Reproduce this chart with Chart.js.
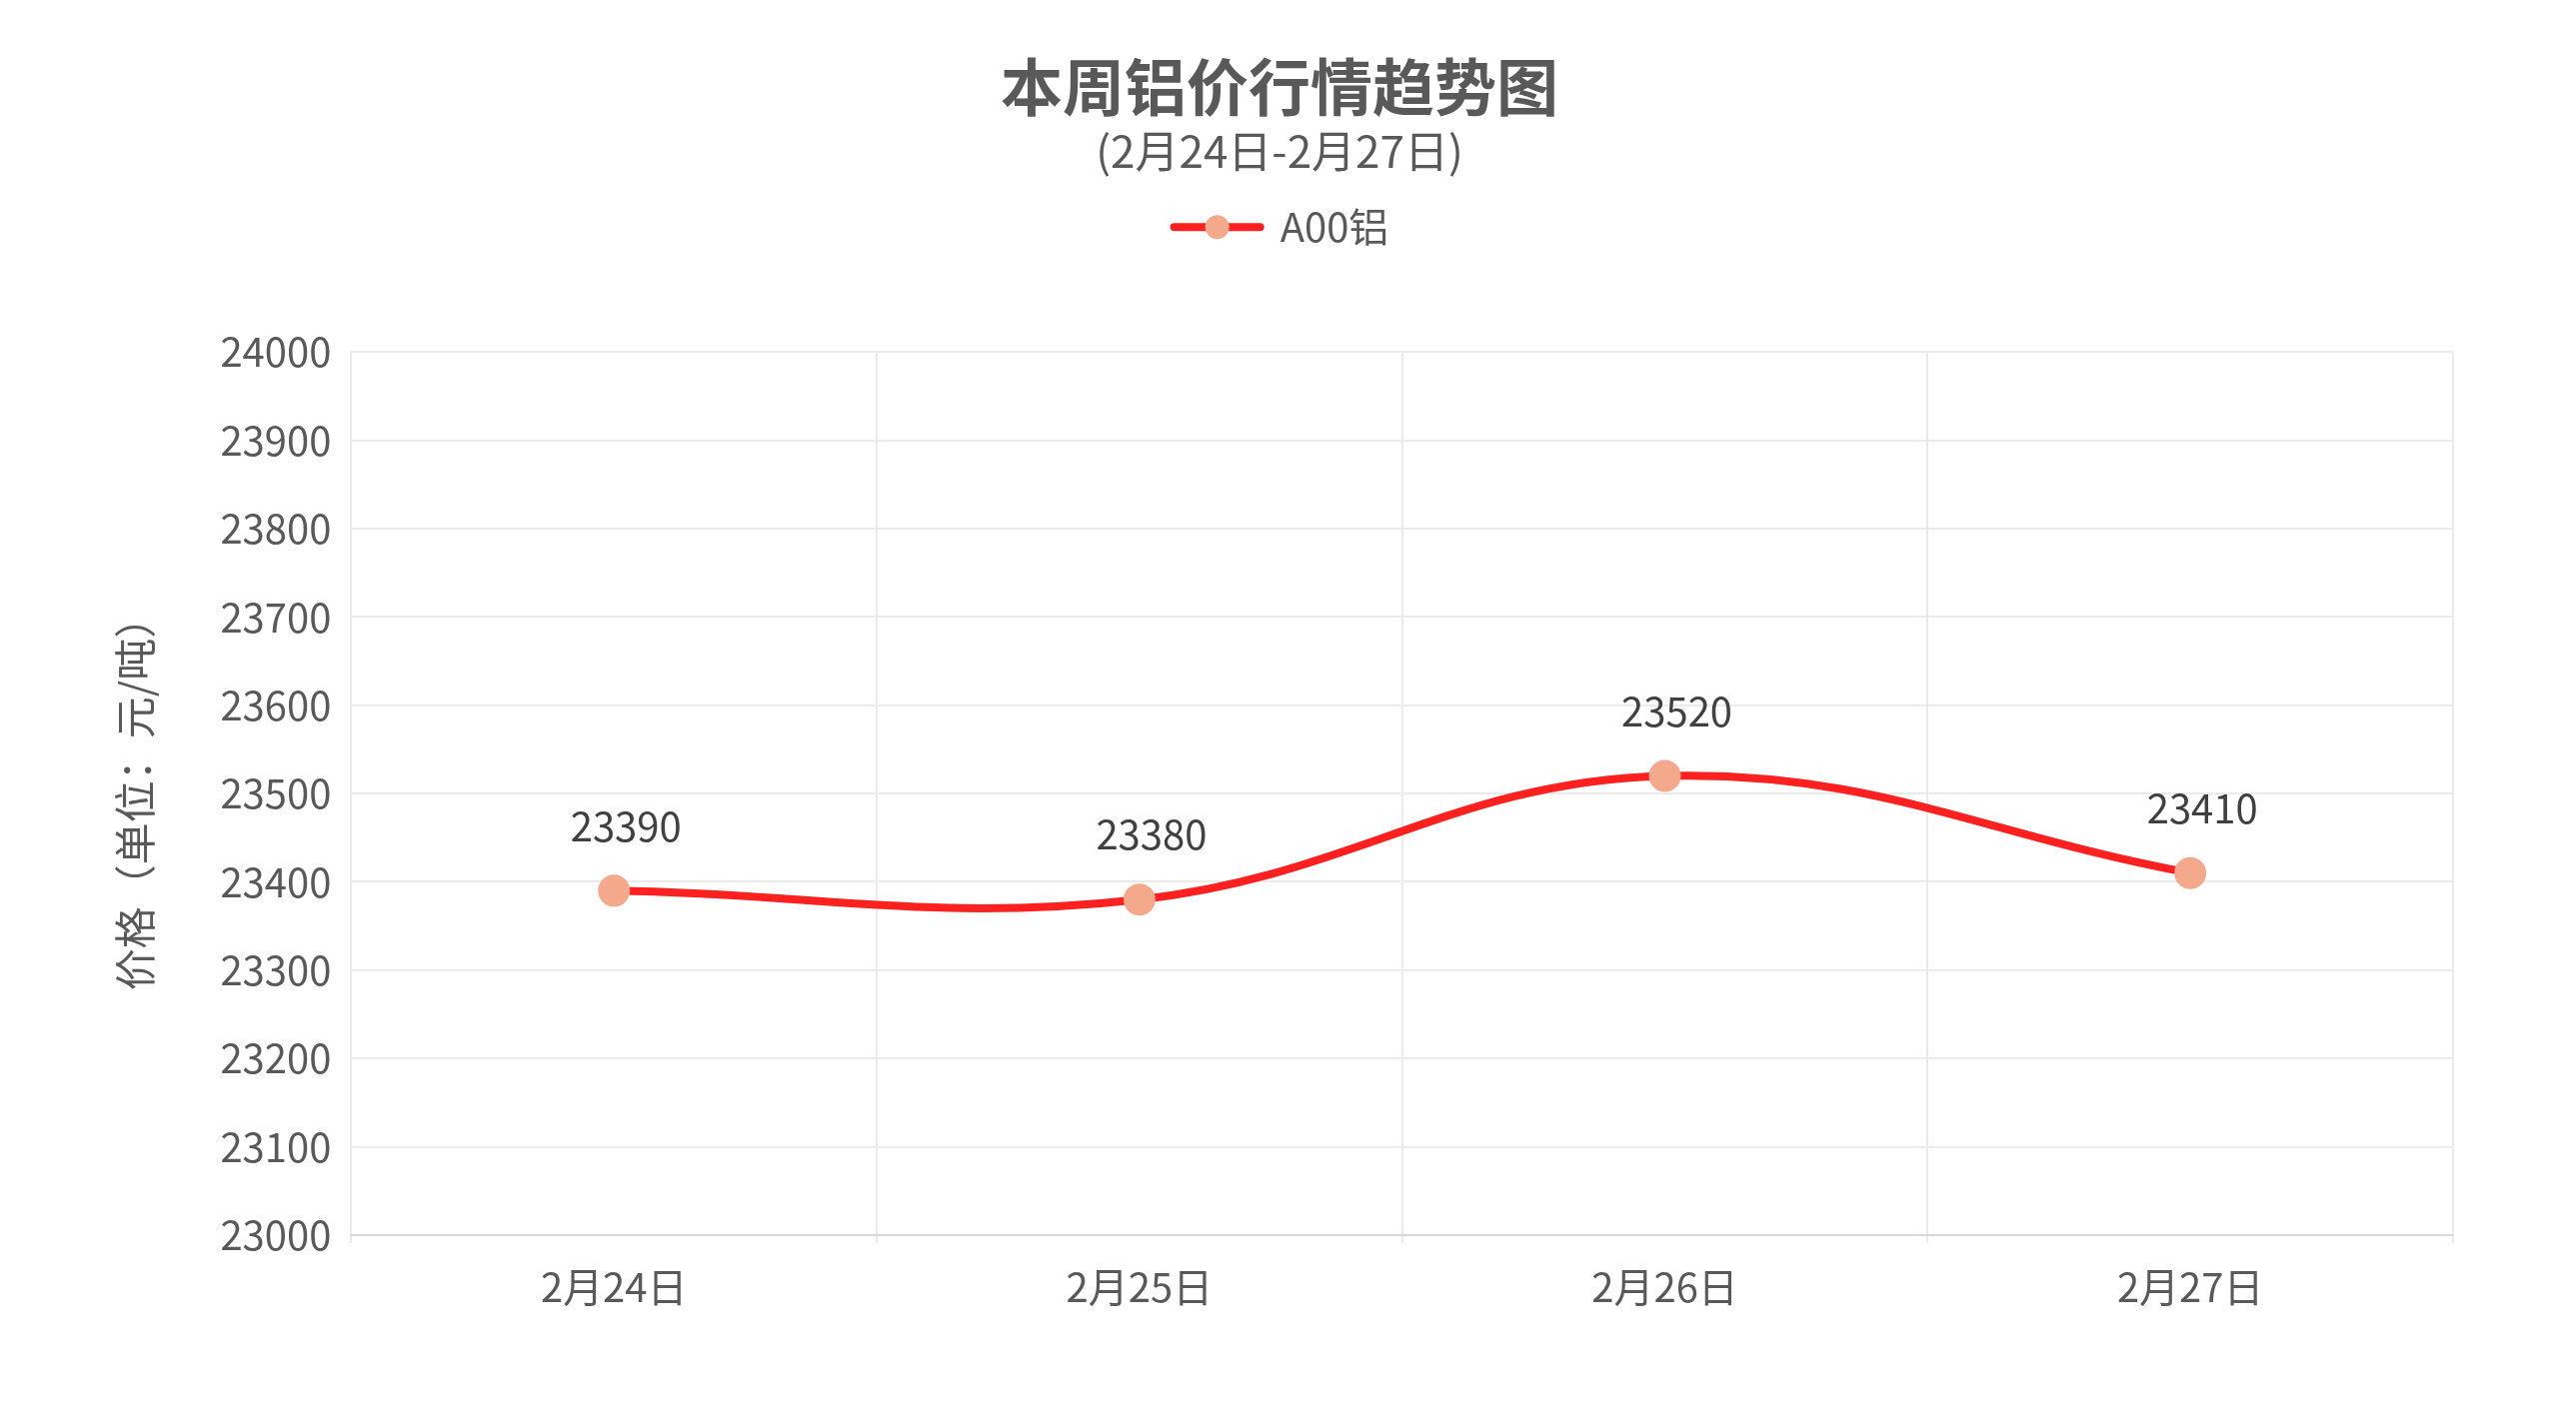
<!DOCTYPE html>
<html>
<head>
<meta charset="utf-8">
<script src="https://cdn.jsdelivr.net/npm/chart.js@4"></script>
<style>
html,body{margin:0;padding:0;background:#fff;}
#wrap{width:2577px;height:1417px;}
</style>
</head>
<body>
<div id="wrap"><canvas id="line"></canvas></div>
<script>
var categories = ["2月24日", "2月25日", "2月26日", "2月27日"];
var prices = [23390, 23380, 23520, 23410];
var yMin = 23000, yMax = 24000, yStep = 100;

var font = "'Microsoft YaHei','Noto Sans CJK SC','Noto Sans',sans-serif";
var textColor = '#595959';
var lineColor = '#FF2020';
var dotColor = '#F4A98C';

// values above points + legend marker (line with dot)
var extras = {
    id: 'extras',
    afterDatasetsDraw: function(chart) {
        var c = chart.ctx;
        var meta = chart.getDatasetMeta(0);
        c.save();
        c.font = '40px ' + font;
        c.fillStyle = '#404040';
        c.textAlign = 'center';
        c.textBaseline = 'bottom';
        meta.data.forEach(function(pt, i) {
            c.fillText(prices[i], pt.x + 12, pt.y - 45);
        });
        c.restore();
    },
    afterDraw: function(chart) {
        var box = chart.legend.legendHitBoxes[0];
        if (!box) return;
        var c = chart.ctx;
        var cy = box.top + box.height / 2;
        c.save();
        c.strokeStyle = lineColor;
        c.lineWidth = 8;
        c.lineCap = 'round';
        c.beginPath();
        c.moveTo(box.left + 4, cy);
        c.lineTo(box.left + 90, cy);
        c.stroke();
        c.fillStyle = dotColor;
        c.beginPath();
        c.arc(box.left + 47, cy, 12, 0, Math.PI * 2);
        c.fill();
        c.restore();
    }
};

var ctx = document.getElementById("line").getContext('2d');
new Chart(ctx, {
    type: 'line',
    data: {
        labels: categories,
        datasets: [{
            label: 'A00铝',
            data: prices,
            borderColor: lineColor,
            backgroundColor: dotColor,
            pointBackgroundColor: dotColor,
            pointBorderColor: dotColor,
            pointRadius: 12,
            borderWidth: 8,
            tension: 0.4,
            fill: false
        }]
    },
    options: {
        responsive: true,
        maintainAspectRatio: false,
        animation: false,
        layout: {padding: {left: 106, right: 123, top: 40, bottom: 85}},
        plugins: {
            title: {
                display: true,
                text: '本周铝价行情趋势图',
                color: textColor,
                font: {family: font, size: 62, weight: 'bold'},
                padding: {top: 10, bottom: 0}
            },
            subtitle: {
                display: true,
                text: '(2月24日-2月27日)',
                color: textColor,
                font: {family: font, size: 44},
                padding: {top: 0, bottom: 20}
            },
            legend: {
                labels: {
                    color: textColor,
                    font: {family: font, size: 40},
                    boxWidth: 90,
                    padding: 10,
                    generateLabels: function(chart) {
                        return [{text: 'A00铝', fillStyle: 'rgba(0,0,0,0)', strokeStyle: 'rgba(0,0,0,0)', lineWidth: 0, fontColor: textColor, datasetIndex: 0}];
                    }
                }
            },
            tooltip: {enabled: false}
        },
        scales: {
            x: {
                offset: true,
                grid: {offset: true, color: '#EBEBEB', lineWidth: 2},
                border: {color: '#D9D9D9', width: 2},
                ticks: {color: textColor, font: {family: font, size: 40}, padding: 20}
            },
            y: {
                min: yMin,
                max: yMax,
                afterFit: function(scale) { scale.paddingTop = 0; },
                ticks: {stepSize: yStep, color: textColor, font: {family: font, size: 40}, padding: 20,
                    callback: function(v) { return String(v); }},
                grid: {color: '#EBEBEB', lineWidth: 2, drawTicks: false},
                border: {display: false},
                title: {
                    display: true,
                    text: '价格（单位：元/吨）',
                    color: textColor,
                    font: {family: font, size: 42},
                    padding: {bottom: 40}
                }
            }
        }
    },
    plugins: [extras, {
        id: 'legendGap',
        beforeInit: function(chart) {
            var orig = chart.legend.fit;
            chart.legend.fit = function() { orig.bind(this)(); this.height += 95; };
        }
    }]
});
</script>
</body>
</html>
